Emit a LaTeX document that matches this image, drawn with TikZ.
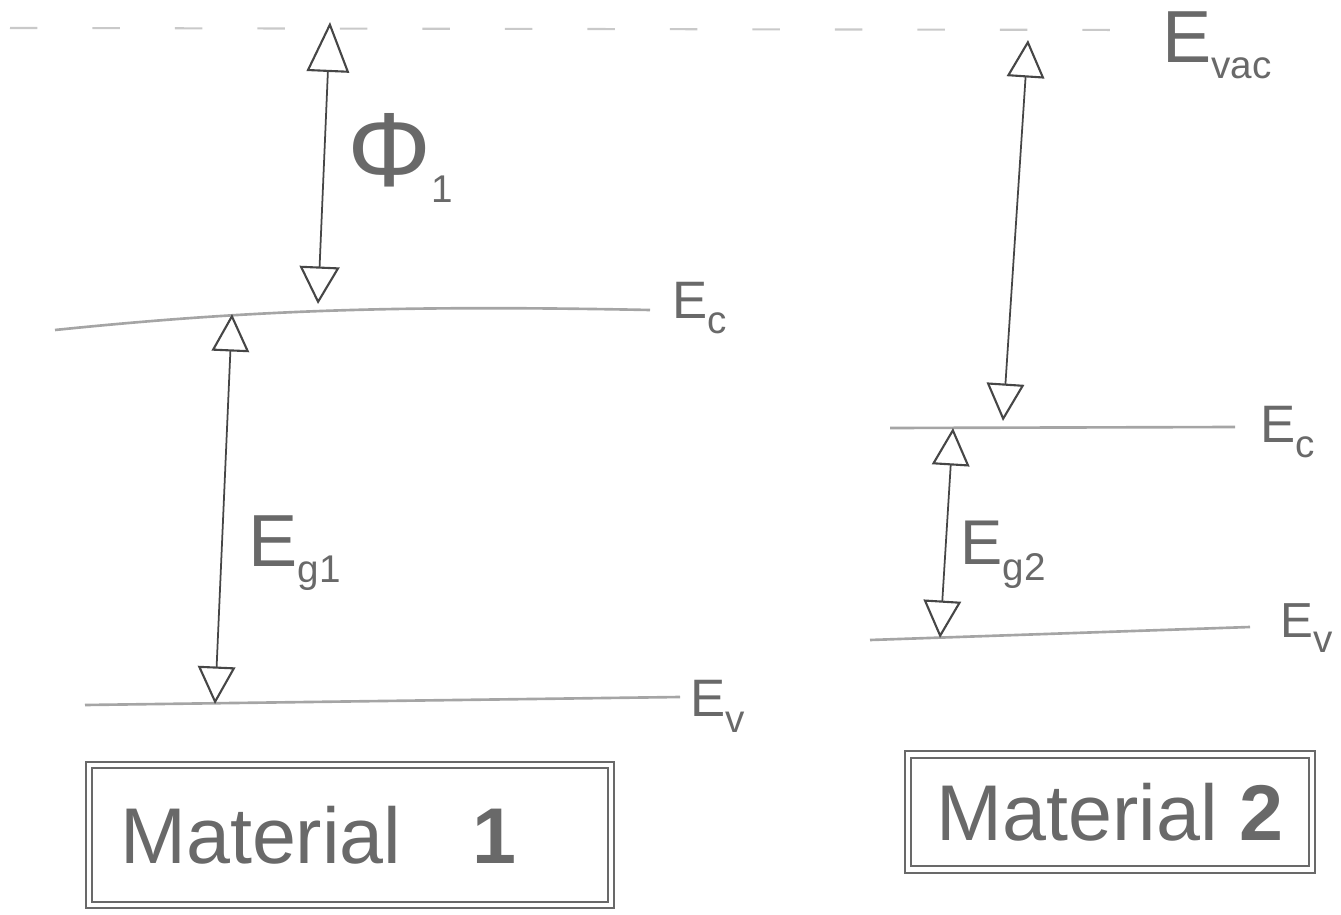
\documentclass[tikz,border=0pt]{standalone}
\usepackage{fontspec}
\setmainfont{Liberation Sans}
\usepackage{tikz}
\usetikzlibrary{arrows.meta,positioning}
\definecolor{lvl}{RGB}{165,165,165}
\definecolor{ink}{RGB}{70,70,70}
\definecolor{txt}{RGB}{105,105,105}
\newcommand\lvsub[1]{\lower9pt\hbox{\fontsize{22}{22}\selectfont #1}}

\begin{document}
\begin{tikzpicture}[x=0.02cm,y=-0.02cm,
  lvlline/.style={lvl,line width=1.5pt},
  gap/.style={ink,line width=1pt,{Triangle[open,length=0.75cm,width=0.75cm,line width=1.2pt]}-{Triangle[open,length=0.75cm,width=0.75cm,line width=1.2pt]}},
  lbl/.style={txt,inner sep=0pt,font=\fontsize{30}{30}\selectfont},
  matbox/.style={draw=lvl,line width=1.2pt,double=white,double distance=2.5pt,inner sep=0pt,txt,font=\fontsize{45}{45}\selectfont}]
  \useasboundingbox (0,0) rectangle (1341,915);
  % vacuum level
  \coordinate (vacL) at (10,28); \coordinate (vacR) at (1135,30);
  \draw[lvl!60,line width=1.2pt,dash pattern=on 0.55cm off 1.1cm] (vacL) -- (vacR);
  \node[lbl,font=\fontsize{42}{42}\selectfont,anchor=west] (evac) at (1162,45) {E\lvsub{vac}};
  % material 1
  \coordinate (ec1L) at (55,330); \coordinate (ec1R) at (650,310);
  \coordinate (ev1L) at (85,705); \coordinate (ev1R) at (680,697);
  \draw[lvlline] (ec1L) .. controls (250,310) and (400,305) .. (ec1R);
  \draw[lvlline] (ev1L) -- (ev1R);
  \coordinate (phi1T) at (330,22); \coordinate (phi1B) at (318,304);
  \coordinate (g1T) at (232,314); \coordinate (g1B) at (215,704);
  \draw[gap,{Triangle[open,length=1cm,width=0.85cm,line width=1.2pt]}-{Triangle[open,length=0.75cm,width=0.8cm,line width=1.2pt]}] (phi1T) -- (phi1B);
  \draw[gap] (g1T) -- (g1B);
  \node[lbl,font=\fontsize{60}{60}\selectfont] (phi1) at (400,158) {Φ\lvsub{1}};
  \node[lbl,font=\fontsize{42}{42}\selectfont,anchor=west] (eg1) at (248,553) {E\lvsub{g1}};
  \node[lbl,anchor=west] (ec1) at (672,308) {E\lvsub{c}};
  \node[lbl,anchor=west] (ev1) at (690,706) {E\lvsub{v}};
  \node[matbox,minimum width=10.44cm,minimum height=2.8cm] (mat1) at (350,835) {\hspace{-0.8em}Material\hspace{0.9em}\textbf{1}};
  % material 2
  \coordinate (ec2L) at (890,428); \coordinate (ec2R) at (1235,427);
  \coordinate (ev2L) at (870,640); \coordinate (ev2R) at (1250,627);
  \draw[lvlline] (ec2L) -- (ec2R);
  \draw[lvlline] (ev2L) -- (ev2R);
  \coordinate (vac2T) at (1028,40); \coordinate (vac2B) at (1003,421);
  \coordinate (g2T) at (953,428); \coordinate (g2B) at (940,638);
  \draw[gap] (vac2T) -- (vac2B);
  \draw[gap] (g2T) -- (g2B);
  \node[lbl,font=\fontsize{36}{36}\selectfont,anchor=west] (eg2) at (960,555) {E\lvsub{g2}};
  \node[lbl,anchor=west] (ec2) at (1260,432) {E\lvsub{c}};
  \node[lbl,font=\fontsize{28}{28}\selectfont,anchor=west] (ev2) at (1280,628) {E\lvsub{v}};
  \node[matbox,minimum width=8.08cm,minimum height=2.3cm] (mat2) at (1110,812) {Material \textbf{2}};
\end{tikzpicture}
\end{document}
